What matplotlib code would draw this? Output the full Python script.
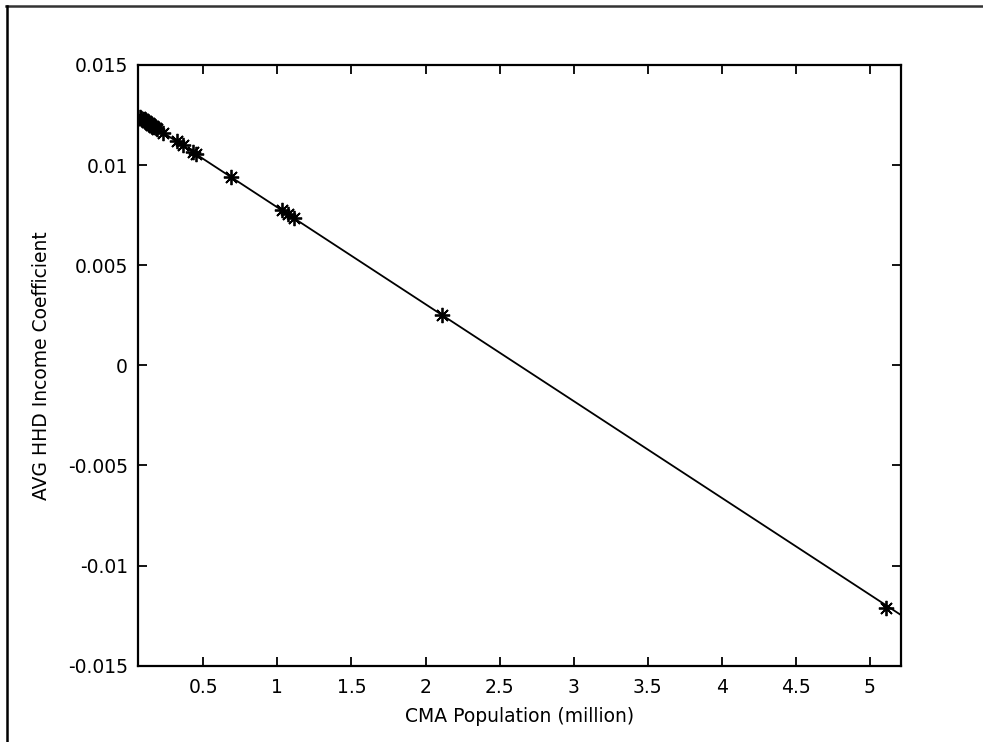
import matplotlib
matplotlib.use("Agg")
import matplotlib.pyplot as plt
from matplotlib.lines import Line2D

plt.rcParams['font.family'] = ['DejaVu Sans']

# CMA population (million) and fitted coefficient at each CMA
pop = [0.07, 0.08, 0.09, 0.10, 0.11, 0.12, 0.13, 0.14, 0.15, 0.16, 0.17, 0.18,
       0.19, 0.23, 0.32, 0.36, 0.43, 0.45, 0.69, 1.03, 1.07, 1.11, 2.11, 5.11]
coef = [0.01239, 0.01234, 0.01229, 0.01225, 0.01220, 0.01215, 0.01210, 0.01205,
        0.01200, 0.01196, 0.01191, 0.01186, 0.01181, 0.01162, 0.01118, 0.01099,
        0.01065, 0.01055, 0.00939, 0.00775, 0.00756, 0.00736, 0.00253, -0.01210]

# fitted line end points
line_x = [0.057, 5.21]
line_y = [0.01245, -0.01247]

xticks = [0.5, 1, 1.5, 2, 2.5, 3, 3.5, 4, 4.5, 5]
xticklabels = ['0.5', '1', '1.5', '2', '2.5', '3', '3.5', '4', '4.5', '5']
yticks = [-0.015, -0.01, -0.005, 0, 0.005, 0.01, 0.015]
yticklabels = ['-0.015', '-0.01', '-0.005', '0', '0.005', '0.01', '0.015']

W, H = 983, 742
fig = plt.figure(figsize=(W / 100, H / 100), dpi=100)
ax = fig.add_axes([137.7 / W, 1 - 665.7 / H, (901 - 137.7) / W, (665.7 - 65) / H])

ax.plot(line_x, line_y, color='black', linewidth=1.3)
ax.plot(pop, coef, linestyle='none', marker=(8, 2, 0), markersize=11,
        markeredgewidth=1.3, color='black')

ax.set_xlim(line_x[0], line_x[1])
ax.set_ylim(-0.015, 0.015)
ax.set_xticks(xticks)
ax.set_xticklabels(xticklabels)
ax.set_yticks(yticks)
ax.set_yticklabels(yticklabels)
ax.tick_params(direction='in', length=6.5, width=1.3, labelsize=13.5,
               top=True, right=True, colors='black')
ax.tick_params(axis='x', pad=9)
ax.tick_params(axis='y', pad=7)
for s in ax.spines.values():
    s.set_linewidth(1.6)

ax.set_xlabel('CMA Population (million)', fontsize=13.5)
ax.set_ylabel('AVG HHD Income Coefficient', fontsize=13.5)
ax.xaxis.set_label_coords(0.5, -0.069)
ax.yaxis.set_label_coords(-0.113, 0.5)

# outer frame (top and left edges)
fig.add_artist(Line2D([6 / W, 1], [1 - 6 / H, 1 - 6 / H], transform=fig.transFigure,
                      color='#333333', linewidth=1.8))
fig.add_artist(Line2D([7 / W, 7 / W], [1 - 6 / H, 0], transform=fig.transFigure,
                      color='black', linewidth=1.8))

fig.savefig('out.png', dpi=100)
